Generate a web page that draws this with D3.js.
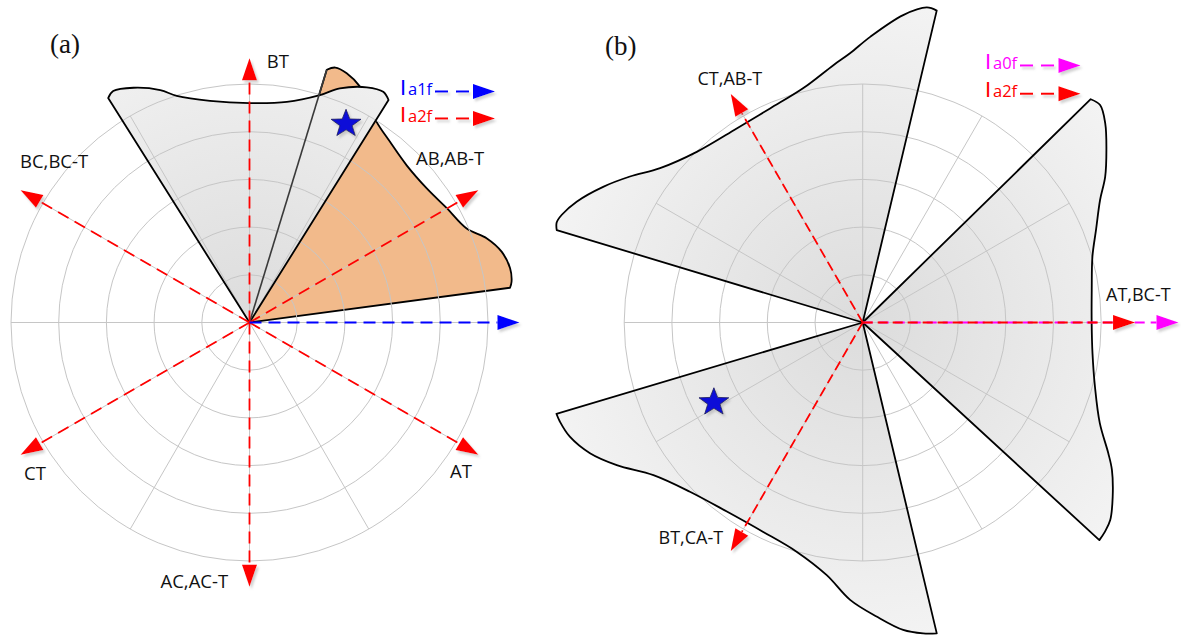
<!DOCTYPE html>
<html>
<head>
<meta charset="utf-8">
<script src="https://cdn.jsdelivr.net/npm/d3@7"></script>
<style>
  body { margin: 0; background: #ffffff; }
  text { font-family: "Open Sans", "Noto Sans", sans-serif; }
</style>
</head>
<body>
<svg id="chart" width="1181" height="636"></svg>
<script>
// ---- shared polar grid ----
const ringValues = [1, 2, 3, 4, 5];
const spokeAngles = [0, 30, 60, 90, 120, 150, 180, 210, 240, 270, 300, 330];

// ---- panel (a): angles in degrees (counter-clockwise from AT,BC-T axis), radii in ring units ----
const aGreyAngles  = [122.2, 120.5, 116.3, 111.0, 107.8, 100.1, 90.0, 80.4, 72.8, 68.9, 63.5, 59.9, 58.0];
const aGreyRadii   = [5.56, 5.63, 5.49, 5.22, 4.99, 4.72, 4.60, 4.69, 4.99, 5.26, 5.51, 5.59, 5.50];
const aOrangeAngles = [73.0, 71.4, 68.7, 64.9, 61.0, 57.65, 52.2, 45.0, 37.1, 30.1, 23.4, 19.5, 15.7, 11.75, 8.85, 7.6];
const aOrangeRadii  = [5.54, 5.64, 5.61, 5.46, 5.20, 4.98, 4.80, 4.66, 4.66, 4.78, 4.96, 5.28, 5.49, 5.58, 5.56, 5.51];
const aPhaseAngles  = [90, 150, 210, 270, 330, 30];
const aPhaseLabels  = ["BT", "BC,BC-T", "CT", "AC,AC-T", "AT", "AB,AB-T"];
const aPhaseLength  = 5.54;
const aFundAngle    = 0;
const aFundLength   = 5.66;
const aStar         = [64.2, 4.65];
const aLegend       = [{ sub: "a1f", color: "#0000ff" }, { sub: "a2f", color: "#ff0000" }];

// ---- panel (b) ----
const bW1Angles = [76.65, 78.5, 82.5, 88.5, 92.7, 96.5, 104.2, 113.4, 123.0, 134.2, 142.7, 147.9, 152.4, 157.1, 160.3, 161.9, 163.2];
const bW1Radii  = [6.72, 6.74, 6.50, 5.99, 5.65, 5.43, 5.07, 4.89, 4.85, 4.99, 5.34, 5.76, 6.14, 6.51, 6.70, 6.75, 6.70];
const bW2Angles = [196.6, 198.1, 201.3, 205.6, 210.1, 216.1, 224.4, 234.3, 244.6, 253.9, 261.9, 267.4, 272.7, 277.5, 281.0, 283.4];
const bW2Radii  = [6.70, 6.68, 6.59, 6.34, 5.96, 5.43, 5.07, 4.88, 4.86, 5.00, 5.35, 5.82, 6.17, 6.50, 6.64, 6.70];
const bW3Angles = [44.4, 42.5, 39.4, 35.3, 31.0, 27.3, 21.6, 16.0, 8.1, 0.0, -7.6, -15.4, -23.0, -28.0, -30.6, -34.9, -38.6, -40.8, -42.6];
const bW3Radii  = [6.69, 6.75, 6.58, 6.26, 5.93, 5.60, 5.26, 5.01, 4.85, 4.80, 4.86, 5.05, 5.40, 5.83, 6.07, 6.39, 6.64, 6.71, 6.74];
const bPhaseAngles  = [120, 240, 0];
const bPhaseLabels  = ["CT,AB-T", "BT,CA-T", "AT,BC-T"];
const bPhaseLengths = [5.53, 5.53, 5.71];
const bZeroAngle    = 0;
const bZeroLength   = 6.62;
const bStar         = [207.9, 3.53];
const bLegend       = [{ sub: "a0f", color: "#ff00ff" }, { sub: "a2f", color: "#ff0000" }];

// ---- drawing ----
const svg = d3.select("#chart");
const rScale = d3.scaleLinear().domain([0, 5]).range([0, 238.5]);
const rad = d => d * Math.PI / 180;
const pt = (deg, v) => [rScale(v) * Math.cos(rad(deg)), -rScale(v) * Math.sin(rad(deg))];

const defs = svg.append("defs");
const grad = defs.append("radialGradient").attr("id", "greyFill")
  .attr("gradientUnits", "userSpaceOnUse").attr("cx", 0).attr("cy", 0).attr("r", 320);
grad.append("stop").attr("offset", 0).attr("stop-color", "#dcdcdc");
grad.append("stop").attr("offset", 1).attr("stop-color", "#f3f3f3");
const sh = defs.append("filter").attr("id", "shadow").attr("x", -0.3).attr("y", -0.3).attr("width", 1.6).attr("height", 1.8);
sh.append("feDropShadow").attr("dx", 2).attr("dy", 2.5).attr("stdDeviation", 0.8)
  .attr("flood-color", "#9a9a9a").attr("flood-opacity", 0.45);

const radialLine = d3.lineRadial()
  .angle(d => rad(90 - d[0]))
  .radius(d => rScale(d[1]))
  .curve(d3.curveCatmullRom.alpha(0.5));

function wedgePath(angles, radii) {
  const pts = angles.map((a, i) => [a, radii[i]]);
  return "M0,0L" + radialLine(pts).slice(1) + "Z";
}

function drawGrid(g) {
  g.selectAll("circle.ring").data(ringValues).join("circle")
    .attr("class", "ring").attr("r", d => rScale(d))
    .attr("fill", "none").attr("stroke", "#c6c6c6").attr("stroke-width", 1);
  g.selectAll("line.spoke").data(spokeAngles).join("line")
    .attr("class", "spoke")
    .attr("x1", 0).attr("y1", 0)
    .attr("x2", d => pt(d, 5)[0]).attr("y2", d => pt(d, 5)[1])
    .attr("stroke", "#c6c6c6").attr("stroke-width", 1);
}

function arrow(g, deg, len, color, dash, width) {
  const L = rScale(len), head = 22, half = 7.5;
  const ux = Math.cos(rad(deg)), uy = -Math.sin(rad(deg));
  const bx = ux * (L - head), by = uy * (L - head);
  g.append("line").attr("x1", 0).attr("y1", 0).attr("x2", bx).attr("y2", by)
    .attr("stroke", color).attr("stroke-width", width).attr("stroke-dasharray", dash);
  const px = -uy, py = ux;
  g.append("path")
    .attr("d", `M${ux * L},${uy * L}L${bx + px * half},${by + py * half}L${bx - px * half},${by - py * half}Z`)
    .attr("fill", color).attr("filter", "url(#shadow)");
}

function starPath(R, r) {
  const p = [];
  for (let i = 0; i < 10; i++) {
    const a = -Math.PI / 2 + i * Math.PI / 5;
    const rr = i % 2 === 0 ? R : r;
    p.push([rr * Math.cos(a) * 1.08, rr * Math.sin(a)]);
  }
  return "M" + p.map(d => d.join(",")).join("L") + "Z";
}

function drawStar(g, s) {
  const [x, y] = pt(s[0], s[1]);
  g.append("path").attr("d", starPath(14.5, 6))
    .attr("transform", `translate(${x},${y + 1})`)
    .attr("fill", "#0a10d8").attr("stroke", "#1a1a5a").attr("stroke-width", 0.8)
    .attr("filter", "url(#shadow)");
}

// current symbol: tall "I" followed by its subscript, then a dashed arrow sample
function legend(items, x, y0, dy, lineX0, lineX1) {
  items.forEach((it, i) => {
    const y = y0 + i * dy;
    svg.append("text").attr("x", x).attr("y", y).attr("fill", it.color)
      .style("font-family", "'Liberation Sans', Arial, sans-serif")
      .attr("font-size", 22).text("I");
    svg.append("text").attr("x", x + 8).attr("y", y).attr("fill", it.color)
      .attr("font-size", 16.5).text(it.sub);
    const ly = y - 3;
    const gl = svg.append("g").attr("filter", "url(#shadow)");
    gl.append("line").attr("x1", lineX0).attr("x2", lineX1).attr("y1", ly).attr("y2", ly)
      .attr("stroke", it.color).attr("stroke-width", 2).attr("stroke-dasharray", "13 8");
    gl.append("path")
      .attr("d", `M${lineX1},${ly - 7.5}L${lineX1 + 22},${ly}L${lineX1},${ly + 7.5}Z`)
      .attr("fill", it.color);
  });
}

// ===== panel (a) =====
const ga = svg.append("g").attr("transform", "translate(249.5,322.5)");
ga.append("path").attr("d", wedgePath(aOrangeAngles, aOrangeRadii))
  .attr("fill", "#f2ba8b").attr("stroke", "#000").attr("stroke-width", 1.8).attr("stroke-linejoin", "round");
ga.append("path").attr("d", wedgePath(aGreyAngles, aGreyRadii)).attr("fill", "url(#greyFill)");
drawGrid(ga.append("g"));
ga.append("path").attr("d", wedgePath(aGreyAngles, aGreyRadii))
  .attr("fill", "none").attr("stroke", "#000").attr("stroke-width", 1.8).attr("stroke-linejoin", "round");
// orange sector edge seen through the grey sector
ga.append("line").attr("x1", 0).attr("y1", 0)
  .attr("x2", pt(aOrangeAngles[0], aOrangeRadii[0])[0]).attr("y2", pt(aOrangeAngles[0], aOrangeRadii[0])[1])
  .attr("stroke", "#3a3a3a").attr("stroke-width", 1.6);
aPhaseAngles.forEach(a => arrow(ga, a, aPhaseLength, "#ff0000", "12 7", 1.8));
arrow(ga, aFundAngle, aFundLength, "#0000ff", "12 7", 2);
drawStar(ga, aStar);

// phase labels of panel (a)
const aLabelPos = [[266.7, 68.3], [20, 168], [24, 480], [160.5, 588], [450, 477.5], [416, 165]];
aPhaseLabels.forEach((t, i) => {
  svg.append("text").attr("x", aLabelPos[i][0]).attr("y", aLabelPos[i][1])
    .attr("font-size", 18.5).attr("fill", "#111").text(t);
});
svg.append("text").attr("x", 50).attr("y", 53).attr("font-size", 27)
  .style("font-family", "'Liberation Serif', 'Times New Roman', serif").attr("fill", "#111").text("(a)");
legend(aLegend, 400, 94.5, 27, 435, 473);

// ===== panel (b) =====
const gb = svg.append("g").attr("transform", "translate(862.7,322.5)");
const bWedges = [[bW1Angles, bW1Radii], [bW2Angles, bW2Radii], [bW3Angles, bW3Radii]];
bWedges.forEach(w => gb.append("path").attr("d", wedgePath(w[0], w[1])).attr("fill", "url(#greyFill)"));
drawGrid(gb.append("g"));
bWedges.forEach(w => gb.append("path").attr("d", wedgePath(w[0], w[1]))
  .attr("fill", "none").attr("stroke", "#000").attr("stroke-width", 1.8).attr("stroke-linejoin", "round"));
arrow(gb, bZeroAngle, bZeroLength, "#ff00ff", "10 6", 2);
bPhaseAngles.forEach((a, i) => arrow(gb, a, bPhaseLengths[i], "#ff0000", "10 5", 1.8));
drawStar(gb, bStar);

const bLabelPos = [[697.5, 85], [658.5, 544], [1106, 301]];
bPhaseLabels.forEach((t, i) => {
  svg.append("text").attr("x", bLabelPos[i][0]).attr("y", bLabelPos[i][1])
    .attr("font-size", 18).attr("fill", "#111").text(t);
});
svg.append("text").attr("x", 605).attr("y", 55).attr("font-size", 27)
  .style("font-family", "'Liberation Serif', 'Times New Roman', serif").attr("fill", "#111").text("(b)");
legend(bLegend, 985, 68.5, 28.3, 1020, 1058.5);
</script>
</body>
</html>
